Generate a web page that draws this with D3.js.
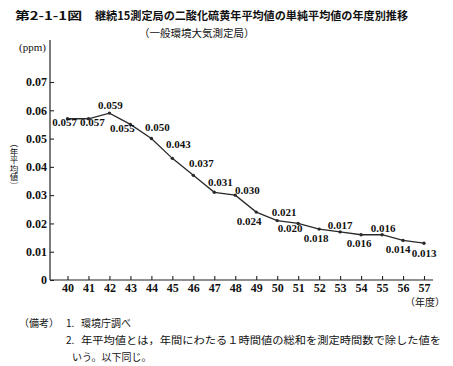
<!DOCTYPE html>
<html>
<head>
<meta charset="utf-8">
<script src="https://cdn.jsdelivr.net/npm/d3@7"></script>
<style>
body { margin: 0; background: #fff; }
svg { display: block; }
.axis text { font-family: "Liberation Serif", serif; font-weight: bold; font-size: 12px; fill: #111; }
.axis line { stroke: #222; stroke-width: 1.1; }
.jp { font-family: "Noto Sans CJK JP", sans-serif; fill: #111; }
.lbl { font-family: "Liberation Serif", serif; font-weight: bold; font-size: 11px; fill: #111; }
</style>
</head>
<body>
<div id="container"></div>
<script>
var years = [40, 41, 42, 43, 44, 45, 46, 47, 48, 49, 50, 51, 52, 53, 54, 55, 56, 57];
var values = [0.057, 0.057, 0.059, 0.055, 0.050, 0.043, 0.037, 0.031, 0.030,
              0.024, 0.021, 0.020, 0.018, 0.017, 0.016, 0.016, 0.014, 0.013];
var yTicks = [0, 0.01, 0.02, 0.03, 0.04, 0.05, 0.06, 0.07];

var title1 = "第2-1-1図";
var title2 = "継続15測定局の二酸化硫黄年平均値の単純平均値の年度別推移";
var subtitle = "（一般環境大気測定局）";
var yTitle = "（年平均値）";
var notes = ["環境庁調べ",
             "年平均値とは，年間にわたる１時間値の総和を測定時間数で除した値を",
             "いう。以下同じ。"];

// where each value label sits relative to its point
var labelOffset = [[-3, 7], [4, 7], [1, -4], [-8, 7.5], [6, -7.5], [6, -10], [8, -8],
                   [6, -6], [12, -1], [-7, 13], [7, -4.5], [-8, 8.5], [-3, 13], [0, -3],
                   [-2, 12.5], [1, -3], [-5, 12.5], [0, 13.5]];

var width = 453;
var height = 366;

var svg = d3.select("#container")
  .append("svg")
  .attr("width", width)
  .attr("height", height);

var x = d3.scaleLinear()
  .domain([40, 57])
  .range([67.5, 424]);

var y = d3.scaleLinear()
  .domain([0, 0.07])
  .range([280, 82]);

// titles
svg.append("text").attr("class", "jp")
  .attr("x", 15).attr("y", 20)
  .attr("textLength", 67).attr("lengthAdjust", "spacingAndGlyphs")
  .style("font-size", "11px").style("font-weight", "bold")
  .text(title1);

svg.append("text").attr("class", "jp")
  .attr("x", 95).attr("y", 20)
  .attr("textLength", 313).attr("lengthAdjust", "spacingAndGlyphs")
  .style("font-size", "11px").style("font-weight", "bold")
  .text(title2);

svg.append("text").attr("class", "jp")
  .attr("x", 139).attr("y", 37)
  .style("font-size", "10.5px")
  .text(subtitle);

// y axis
svg.append("line")
  .attr("x1", 50).attr("x2", 50)
  .attr("y1", y(0)).attr("y2", 40)
  .attr("stroke", "#222").attr("stroke-width", 1.2);

svg.append("g")
  .attr("class", "axis")
  .attr("transform", "translate(50,0)")
  .call(d3.axisLeft(y)
    .tickValues(yTicks)
    .tickSizeInner(-4)
    .tickSizeOuter(0)
    .tickPadding(3)
    .tickFormat(d => d === 0 ? "0" : d.toFixed(2)))
  .call(g => g.select(".domain").remove());

svg.append("text")
  .attr("x", 19).attr("y", 51)
  .style("font-family", "Liberation Serif, serif")
  .style("font-size", "11px")
  .style("fill", "#111")
  .text("(ppm)");

// vertical axis title
svg.append("text")
  .attr("class", "jp")
  .attr("x", 14)
  .attr("y", 139)
  .style("writing-mode", "vertical-rl")
  .style("font-size", "8.5px")
  .text(yTitle);

// x axis
svg.append("line")
  .attr("x1", 50).attr("x2", 433)
  .attr("y1", y(0)).attr("y2", y(0))
  .attr("stroke", "#222").attr("stroke-width", 1.2);

svg.append("g")
  .attr("class", "axis")
  .attr("transform", "translate(0," + y(0) + ")")
  .call(d3.axisBottom(x)
    .tickValues(years)
    .tickSizeInner(-4)
    .tickSizeOuter(0)
    .tickPadding(3))
  .call(g => g.select(".domain").remove());

svg.append("text").attr("class", "jp")
  .attr("x", 445).attr("y", 306)
  .attr("text-anchor", "end")
  .style("font-size", "10px")
  .text("（年度）");

// data line
var pts = years.map((yr, i) => [x(yr), y(values[i])]);

svg.append("path")
  .datum(pts)
  .attr("fill", "none")
  .attr("stroke", "#2a2a2a")
  .attr("stroke-width", 1.3)
  .attr("d", d3.line());

svg.selectAll("circle")
  .data(pts)
  .enter()
  .append("circle")
  .attr("cx", d => d[0])
  .attr("cy", d => d[1])
  .attr("r", 1.7)
  .attr("fill", "#2a2a2a");

svg.selectAll(".lbl")
  .data(values)
  .enter()
  .append("text")
  .attr("class", "lbl")
  .attr("text-anchor", "middle")
  .attr("x", (d, i) => pts[i][0] + labelOffset[i][0])
  .attr("y", (d, i) => pts[i][1] + labelOffset[i][1])
  .text(d => d.toFixed(3));

// notes
svg.append("text").attr("class", "jp")
  .attr("x", 19).attr("y", 327)
  .style("font-size", "10px")
  .text("（備考）");

svg.append("text").attr("class", "jp")
  .attr("x", 66).attr("y", 327)
  .style("font-size", "10px")
  .text("1.");

svg.append("text").attr("class", "jp")
  .attr("x", 81).attr("y", 327)
  .style("font-size", "10px")
  .text(notes[0]);

svg.append("text").attr("class", "jp")
  .attr("x", 66).attr("y", 344)
  .style("font-size", "10px")
  .text("2.");

svg.append("text").attr("class", "jp")
  .attr("x", 81).attr("y", 344)
  .attr("textLength", 360).attr("lengthAdjust", "spacingAndGlyphs")
  .style("font-size", "10.5px")
  .text(notes[1]);

svg.append("text").attr("class", "jp")
  .attr("x", 72).attr("y", 361)
  .style("font-size", "10px")
  .text(notes[2]);
</script>
</body>
</html>
